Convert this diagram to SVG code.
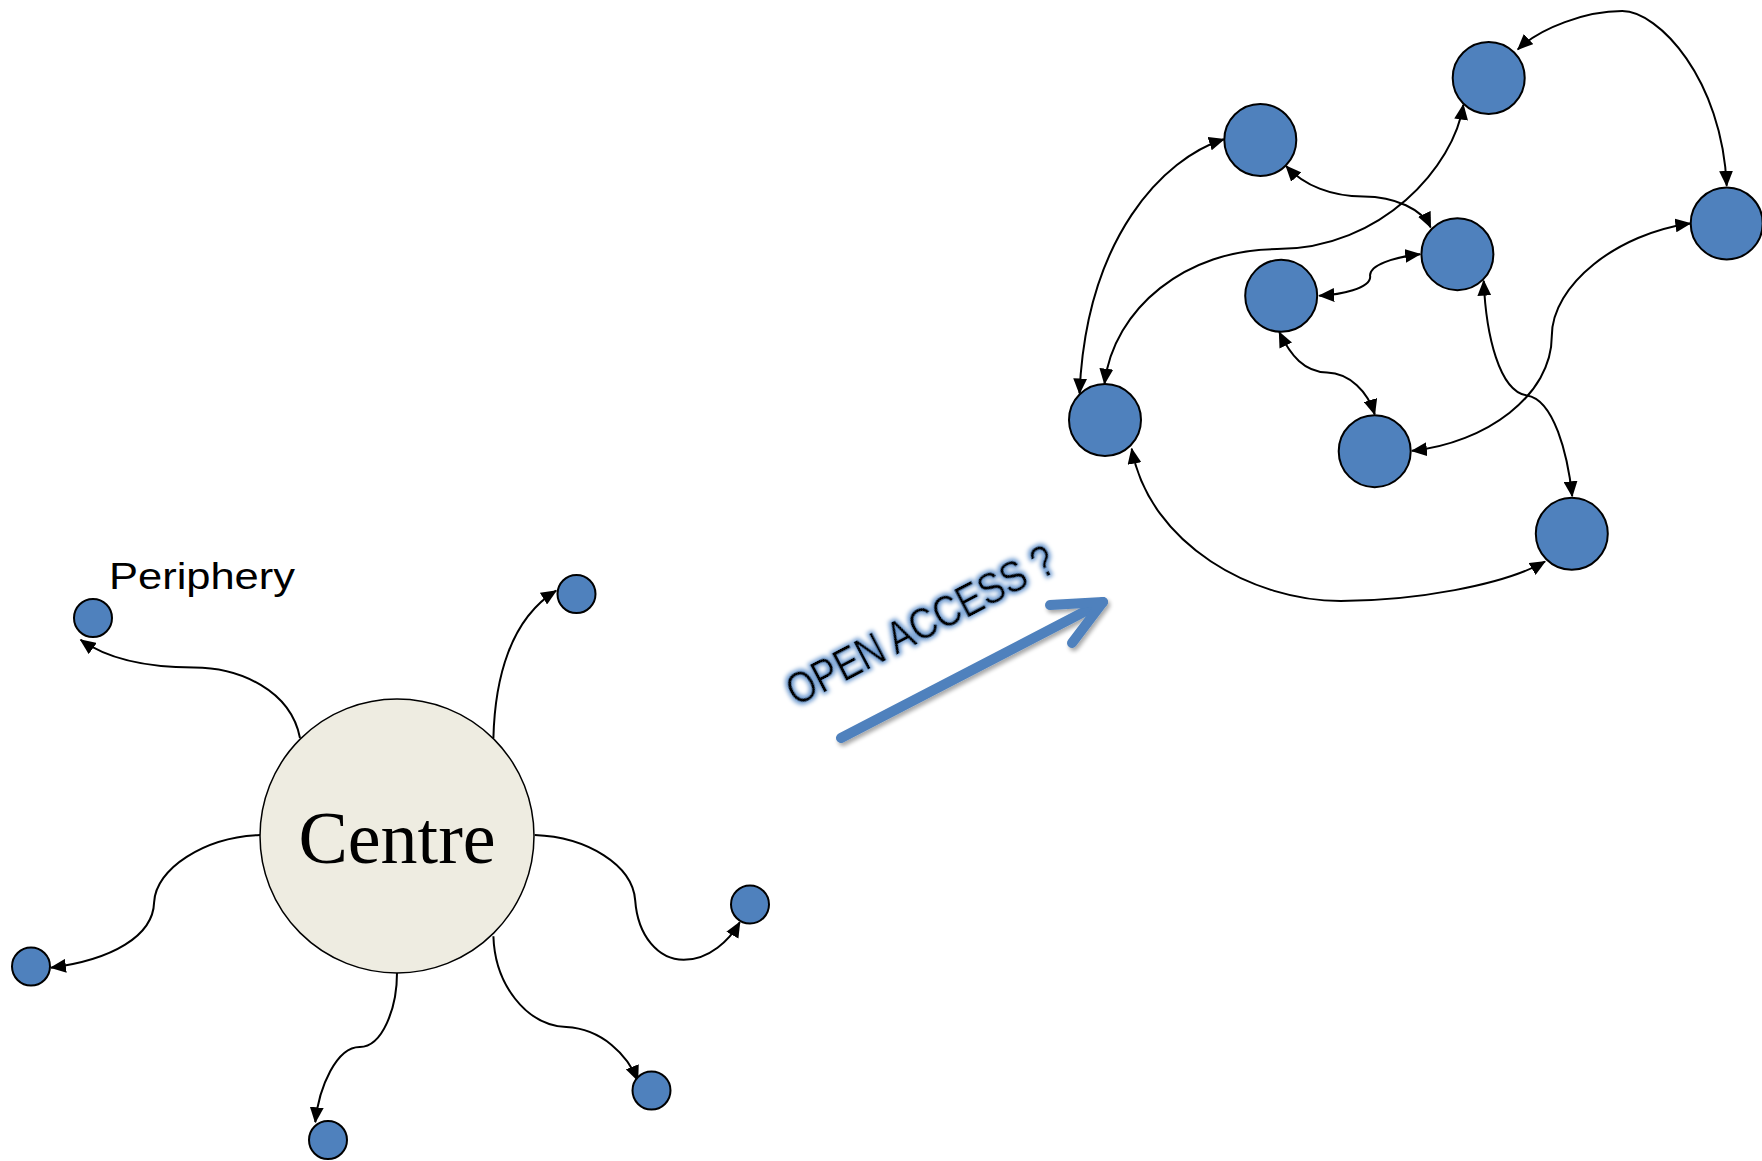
<svg xmlns="http://www.w3.org/2000/svg" width="1762" height="1161" viewBox="0 0 1762 1161">
<defs>
<marker id="ah" markerUnits="userSpaceOnUse" markerWidth="16" markerHeight="14" viewBox="0 0 15 13" refX="14" refY="6.5" orient="auto-start-reverse">
<path d="M0,0 L15,6.5 L0,13 z" fill="#000"/>
</marker>
<filter id="glow" x="-20%" y="-40%" width="140%" height="180%">
<feMorphology in="SourceAlpha" operator="dilate" radius="2" result="d"/>
<feGaussianBlur in="d" stdDeviation="2" result="b"/>
<feFlood flood-color="#6F9BD0"/>
<feComposite in2="b" operator="in" result="g"/>
<feMerge><feMergeNode in="g"/><feMergeNode in="SourceGraphic"/></feMerge>
</filter>
<filter id="shadow" x="-10%" y="-30%" width="120%" height="160%">
<feGaussianBlur in="SourceAlpha" stdDeviation="2"/>
<feOffset dx="2" dy="3" result="o"/>
<feComponentTransfer><feFuncA type="linear" slope="0.35"/></feComponentTransfer>
<feMerge><feMergeNode/><feMergeNode in="SourceGraphic"/></feMerge>
</filter>
</defs>
<style>
.n{fill:#4F81BD;stroke:#000;stroke-width:2}
.c{fill:none;stroke:#000;stroke-width:2}
.e{marker-end:url(#ah)}
.b{marker-start:url(#ah);marker-end:url(#ah)}
</style>
<rect width="1762" height="1161" fill="#fff"/>
<g id="connectors">
<path class="c e" d="M300,738 C290.8,690.5 239.8,667.5 193.9,667.5 C148,667.5 107.1,658.8 80.6,639.8"/>
<path class="c e" d="M493.4,738 C494.9,678.6 510.2,619.2 556.1,590.7"/>
<path class="c e" d="M260.2,835 C204.1,837 155.6,868.7 154.1,902.4 C153.1,936 112.2,959.8 51,967.7"/>
<path class="c e" d="M534.7,835 C586.7,837 632.7,864.8 635.2,900.4 C637.8,936 658.2,959.8 683.7,959.8 C709.2,959.8 729.6,940 739.8,922.2"/>
<path class="c e" d="M397,972.9 C397,1007.3 382.7,1046.9 359.7,1046.9 C336.7,1046.9 318.9,1086.5 315.3,1122.2"/>
<path class="c e" d="M493.4,936.2 C494.9,983.8 525.5,1025.1 566.3,1027.1 C602,1029 627.6,1054.9 637.8,1080.6"/>
<path class="c b" d="M1517.8,49.4 C1540.5,27.7 1585.9,11.1 1622.2,11.1 C1658.5,11.1 1722.1,79.1 1726.7,185.8"/>
<path class="c b" d="M1223.9,139.2 C1163.5,158.2 1086.3,237.2 1079.5,393.4"/>
<path class="c b" d="M1286.1,166.1 C1304.3,185.8 1331.6,196.5 1363.4,196.5 C1395.2,196.5 1422.4,209.6 1430.6,227.4"/>
<path class="c b" d="M1463.3,104.8 C1454.2,166.1 1381.5,249.1 1277.1,249.1 C1186.2,249.1 1113.6,308.4 1104.5,383.6"/>
<path class="c b" d="M1420.1,254.2 C1395.1,257 1367.9,264.9 1370.2,276.8 C1370.2,288.6 1340.6,294.6 1319.3,295.8"/>
<path class="c b" d="M1279.3,332.1 C1290.7,355.9 1304.3,371.7 1327,372.5 C1349.7,373.3 1367.9,391.5 1374.7,414.4"/>
<path class="c b" d="M1690.3,223.4 C1617.7,233.3 1551.8,284.7 1551.8,336.1 C1551.8,395.4 1486,442.9 1412,450.8"/>
<path class="c b" d="M1483.7,280.7 C1486,336.1 1499.6,391.5 1526.8,395.4 C1554,399.3 1567.7,454.7 1572.2,496.2"/>
<path class="c b" d="M1131.7,448.8 C1149.9,545.7 1254.4,601 1340.6,601 C1413.3,601 1504.1,585.2 1545,561.5"/>
</g>
<g id="centre">
<circle cx="397" cy="836" r="137" fill="#EEECE1" stroke="#000" stroke-width="1.5"/>
<text x="397" y="863" text-anchor="middle" font-family="Liberation Serif, serif" font-size="74">Centre</text>
</g>
<g id="periphery-label">
<text x="109" y="589" font-family="Liberation Sans, Arial, sans-serif" font-size="37" textLength="186" lengthAdjust="spacingAndGlyphs">Periphery</text>
</g>
<g id="p1"><circle class="n" cx="93" cy="618" r="19"/></g>
<g id="p2"><circle class="n" cx="576.5" cy="594" r="19"/></g>
<g id="p3"><circle class="n" cx="31" cy="966.5" r="19"/></g>
<g id="p4"><circle class="n" cx="750" cy="904.5" r="19"/></g>
<g id="p5"><circle class="n" cx="328" cy="1140" r="19"/></g>
<g id="p6"><circle class="n" cx="651.5" cy="1090.5" r="19"/></g>
<g id="n1"><circle class="n" cx="1260.3" cy="140" r="36"/></g>
<g id="n2"><circle class="n" cx="1488.7" cy="78" r="36"/></g>
<g id="n3"><circle class="n" cx="1726.7" cy="223.4" r="36"/></g>
<g id="n4"><circle class="n" cx="1457.4" cy="254.2" r="36"/></g>
<g id="n5"><circle class="n" cx="1281.2" cy="295.8" r="36"/></g>
<g id="n6"><circle class="n" cx="1105" cy="420" r="36"/></g>
<g id="n7"><circle class="n" cx="1374.7" cy="451.2" r="36"/></g>
<g id="n8"><circle class="n" cx="1571.8" cy="533.8" r="36"/></g>
<g id="open-access">
<g filter="url(#shadow)" fill="none" stroke="#4F81BD" stroke-width="10" stroke-linecap="round" stroke-linejoin="round">
<path d="M841,738 L1103,602"/>
<path d="M1050,605 L1103,602 L1072,643"/>
</g>
<text transform="translate(796,707) rotate(-27.5)" font-family="Liberation Sans, Arial, sans-serif" font-size="45" textLength="296" lengthAdjust="spacingAndGlyphs" filter="url(#glow)">OPEN ACCESS ?</text>
</g>
</svg>
